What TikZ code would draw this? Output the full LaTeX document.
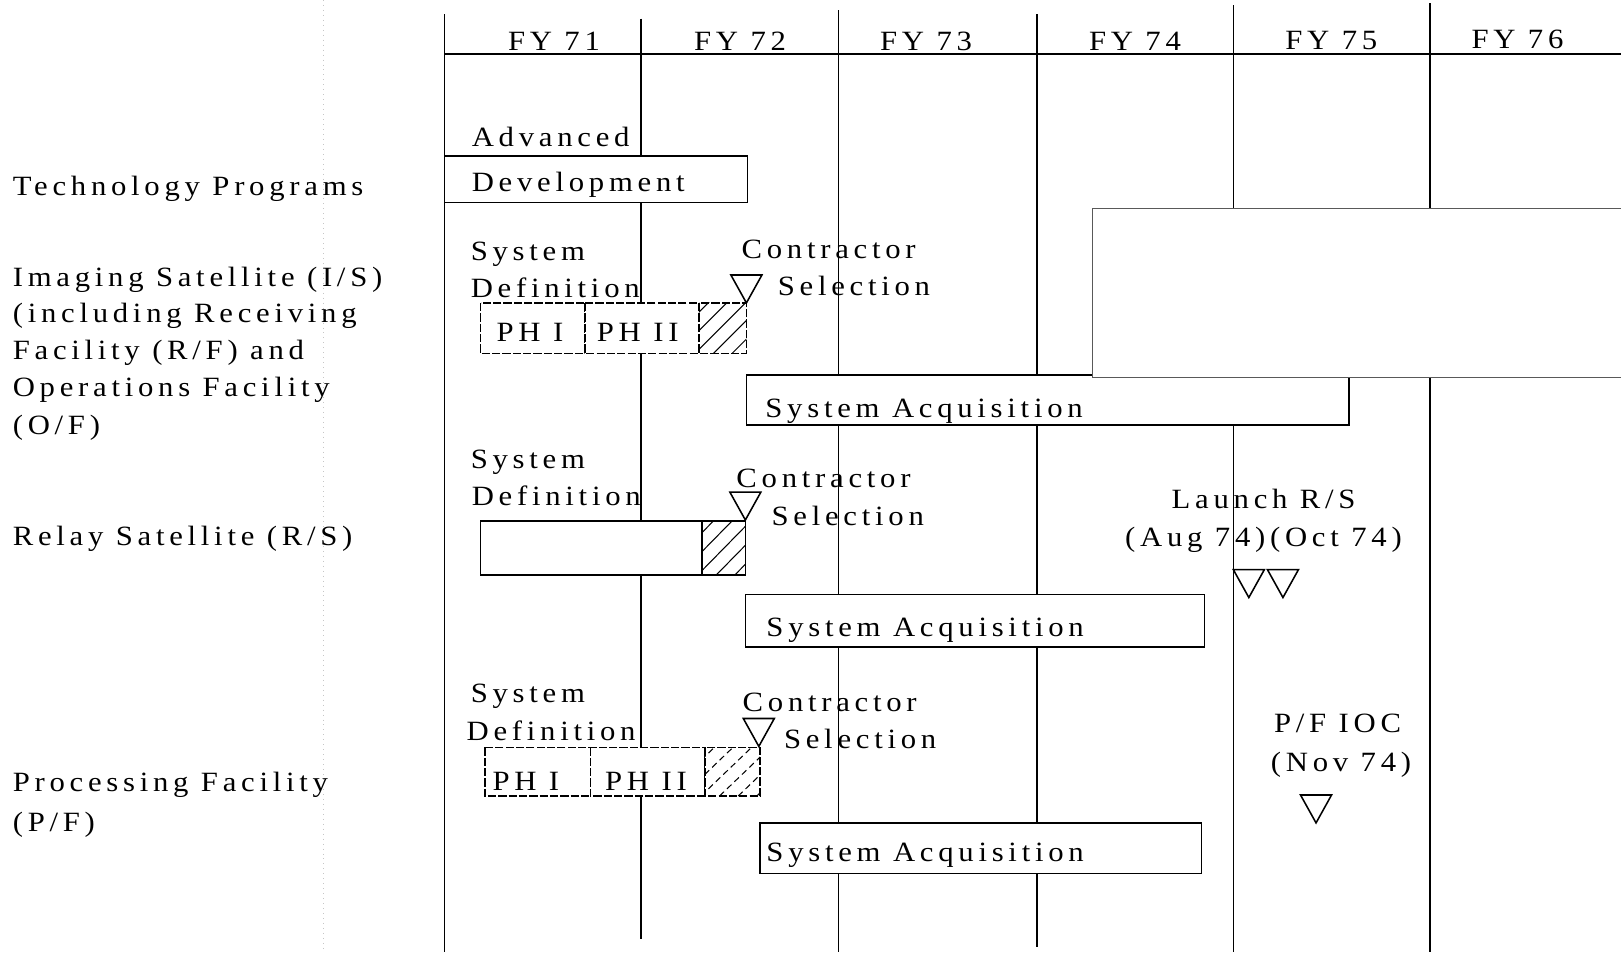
\documentclass[tikz,border=0pt]{standalone}
\usepackage{fontspec}
\setmainfont{Liberation Serif}[FakeStretch=1.1,LetterSpace=17]
\tikzset{
  grid/.style={line width=0.75pt,black},
  bar/.style={line width=0.75pt,black,fill=white},
  dbar/.style={line width=0.7pt,black,fill=white,dash pattern=on 4pt off 1pt},
  txt/.style={font=\fontsize{13.5}{15}\selectfont,inner sep=0pt,anchor=base west,text=black,yshift=-1pt},
  hatch/.style={line width=0.5pt,black},
  ms/.pic={\draw[line width=0.75pt] (-15,-27) -- (15,-27) -- (0,0) -- cycle;}
}
\begin{document}
\begin{tikzpicture}[x=0.5pt,y=-0.5pt]
\useasboundingbox (0,0) rectangle (1568,921);
% faint scan line
\draw[gray!45,line width=0.4pt,dotted] (313,0) -- (313,921);
% grid
\draw[grid] (430,14) -- (430,921);
\draw[grid] (620,18) -- (620,908);
\draw[grid] (811,10) -- (811,921);
\draw[grid] (1003,14) -- (1003,916);
\draw[grid] (1193,5) -- (1193,921);
\draw[grid] (1383,3) -- (1383,921);
\draw[grid] (430,52) -- (1568,52);
% header
\node[txt] (fy71) at (491,47) {FY 71};
\node[txt] (fy72) at (671,47) {FY 72};
\node[txt] (fy73) at (851,47) {FY 73};
\node[txt] (fy74) at (1053,47) {FY 74};
\node[txt] (fy75) at (1243,46) {FY 75};
\node[txt] (fy76) at (1423,45) {FY 76};
% left labels
\node[txt] (tp) at (12,187) {Technology Programs};
\node[txt] (is1) at (12,275) {Imaging Satellite (I/S)};
\node[txt] (is2) at (12,310) {(including Receiving};
\node[txt] (is3) at (12,346) {Facility (R/F) and};
\node[txt] (is4) at (12,382) {Operations Facility};
\node[txt] (is5) at (12,418) {(O/F)};
\node[txt] (rs) at (12,526) {Relay Satellite (R/S)};
\node[txt] (pf1) at (12,764) {Processing Facility};
\node[txt] (pf2) at (12,802) {(P/F)};
% Technology programs
\draw[bar] (430,151) rectangle (723,196);
\node[txt] (adv) at (456,140) {Advanced};
\node[txt] (dev) at (456,183) {Development};
% Imaging satellite
\node[txt] (isd1) at (455,250) {System};
\node[txt] (isd2) at (455,286) {Definition};
\draw[dbar] (465,293) rectangle (566,342);
\draw[dbar] (566,293) rectangle (676,342);
\draw[dbar] (676,293) rectangle (722,342);
\begin{scope}
\clip (676,293) rectangle (722,342);
\foreach \k in {0,18,...,100} {\draw[hatch] (676+\k-40,342) -- (676+\k+10,292);}
\end{scope}
\node[txt] (isp1) at (480,328) {PH I};
\node[txt] (isp2) at (577,328) {PH II};
\pic at (722,293) {ms};
\node[txt] (isc1) at (717,248) {Contractor};
\node[txt] (isc2) at (752,284) {Selection};
\draw[bar] (722,363) rectangle (1305,411);
\node[txt] (isa) at (740,402) {System Acquisition};
% Relay satellite
\node[txt] (rsd1) at (455,451) {System};
\node[txt] (rsd2) at (456,487) {Definition};
\draw[bar] (465,504) rectangle (679,556);
\draw[bar] (679,504) rectangle (721,556);
\begin{scope}
\clip (679,504) rectangle (721,556);
\foreach \k in {0,18,...,100} {\draw[hatch] (679+\k-40,556) -- (679+\k+12,503);}
\end{scope}
\pic at (721,503) {ms};
\node[txt] (rsc1) at (712,470) {Contractor};
\node[txt] (rsc2) at (746,506) {Selection};
\draw[bar] (721,575) rectangle (1165,626);
\node[txt] (rsa) at (741,614) {System Acquisition};
\node[txt] (l1) at (1133,490) {Launch R/S};
\node[txt] (l2) at (1088,527) {(Aug 74)(Oct 74)};
\pic at (1208,578) {ms};
\pic at (1241,578) {ms};
% Processing facility
\node[txt] (pfd1) at (455,678) {System};
\node[txt] (pfd2) at (451,714) {Definition};
\draw[dbar] (469,723) rectangle (571,770);
\draw[dbar] (571,723) rectangle (682,770);
\draw[dbar] (682,723) rectangle (735,770);
\begin{scope}
\clip (682,723) rectangle (735,770);
\foreach \k in {0,18,...,100} {\draw[hatch,densely dashed] (682+\k-40,770) -- (682+\k+10,722);}
\end{scope}
\node[txt] (pfp1) at (476,763) {PH I};
\node[txt] (pfp2) at (585,763) {PH II};
\pic at (734,722) {ms};
\node[txt] (pfc1) at (718,686) {Contractor};
\node[txt] (pfc2) at (758,722) {Selection};
\draw[bar] (735,796) rectangle (1162,845);
\node[txt] (pfa) at (741,831) {System Acquisition};
\node[txt] (ioc1) at (1232,707) {P/F IOC};
\node[txt] (ioc2) at (1229,744) {(Nov 74)};
\pic at (1273,796) {ms};
% redaction box
\draw[fill=white,draw=black!65,line width=0.5pt] (1057,202) rectangle (1570,365);
\end{tikzpicture}
\end{document}
